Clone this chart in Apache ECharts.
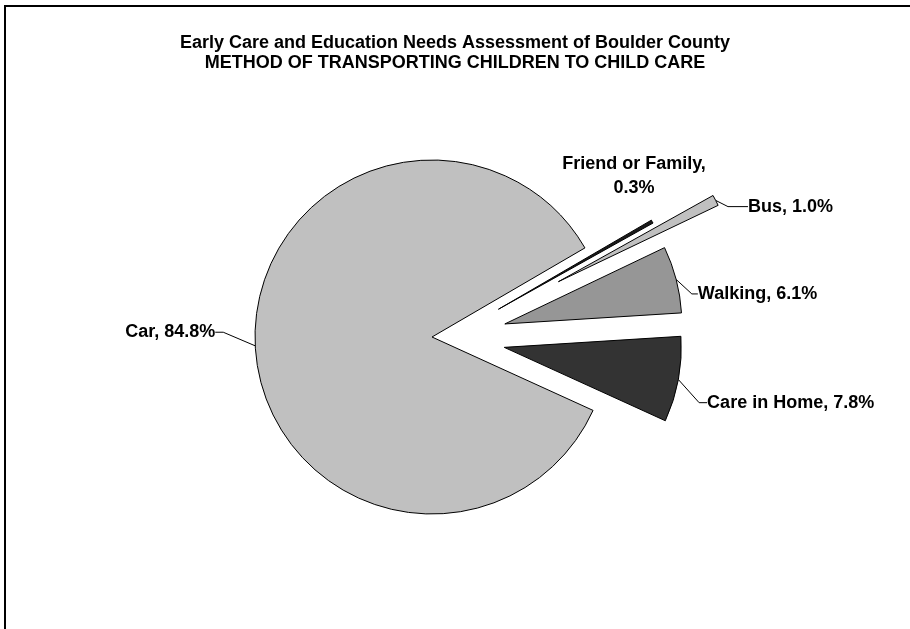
<!DOCTYPE html>
<html>
<head>
<meta charset="utf-8">
<script src="https://cdn.jsdelivr.net/npm/echarts@6/dist/echarts.min.js"></script>
<style>
  html, body { margin: 0; padding: 0; background: #fff; }
  #chart { width: 910px; height: 629px; }
</style>
</head>
<body>
<div id="chart"></div>
<script>
// data
var categories = ['Car', 'Friend or Family', 'Bus', 'Walking', 'Care in Home'];
var shares = [84.8, 0.3, 1.0, 6.1, 7.8];

// styling per slice
var sliceColors = ['#c0c0c0', '#1a1a1a', '#c0c0c0', '#969696', '#333333'];
var explode = [0, 72, 138, 74, 73];           // px the slice is pulled out
var explodeTilt = [0, -7, -3.7, -4.4, 2.3];   // deg, Excel pulls slices a bit off the bisector
var lineLen = [[28, 8], [8, 0], [6, 20], [10, 6], [12, 8]];
var labelNudge = [[1, -15], [-102, -42], [2, 9], [1, 17], [4, 21]];
var labelBreak = [' ', '\n', ' ', ' ', ' '];

var cx = 432, cy = 337, radius = 177, startAngle = 335.5;
var total = shares.reduce(function (a, b) { return a + b; }, 0);

function makeSeries(k) {
    // mid angle of slice k, the pie copy is pushed out along it
    var before = 0;
    for (var i = 0; i < k; i++) before += shares[i];
    var mid = (startAngle - (before + shares[k] / 2) / total * 360 + explodeTilt[k]) * Math.PI / 180;
    var center = [cx + explode[k] * Math.cos(mid), cy - explode[k] * Math.sin(mid)];

    var data = categories.map(function (name, i) {
        var on = i === k;
        return {
            name: name,
            value: shares[i],
            itemStyle: on
                ? { color: sliceColors[i], borderColor: '#000', borderWidth: 1 }
                : { color: 'rgba(0,0,0,0)', borderWidth: 0 },
            label: { show: on },
            labelLine: { show: on && k !== 1 }
        };
    });

    return {
        type: 'pie',
        center: center,
        radius: radius,
        startAngle: startAngle,
        clockwise: true,
        avoidLabelOverlap: false,
        silent: true,
        animation: false,
        data: data,
        label: {
            position: 'outside',
            fontFamily: 'Liberation Sans, Arial, sans-serif',
            fontWeight: 'bold',
            fontSize: 18,
            lineHeight: 24,
            color: '#000',
            formatter: function (p) {
                return p.name + ',' + labelBreak[k] + p.value.toFixed(1) + '%';
            }
        },
        labelLine: {
            length: lineLen[k][0],
            length2: lineLen[k][1],
            lineStyle: { color: '#000', width: 1 }
        },
        labelLayout: function (p) {
            var r = p.labelRect;
            var n = labelNudge[k];
            if (k === 1) {
                return { x: r.x + r.width / 2 + n[0], y: r.y + r.height / 2 + n[1], align: 'center' };
            }
            var ax = p.align === 'right' ? r.x + r.width : r.x;
            return { x: ax + n[0], y: r.y + r.height / 2 + n[1] };
        }
    };
}

var chart = echarts.init(document.getElementById('chart'));
var option = {
    backgroundColor: '#fff',
    animation: false,
    title: {
        text: 'Early Care and Education Needs Assessment of Boulder County\nMETHOD OF TRANSPORTING CHILDREN TO CHILD CARE',
        left: 'center',
        top: 33,
        padding: 0,
        textStyle: {
            fontFamily: 'Liberation Sans, Arial, sans-serif',
            fontWeight: 'bold',
            fontSize: 18,
            lineHeight: 20,
            color: '#000'
        }
    },
    graphic: [{
        type: 'rect',
        silent: true,
        shape: { x: 5, y: 6, width: 1000, height: 1000 },
        style: { fill: 'none', stroke: '#000', lineWidth: 2 }
    }],
    series: categories.map(function (c, k) { return makeSeries(k); })
};
chart.setOption(option);
</script>
</body>
</html>
